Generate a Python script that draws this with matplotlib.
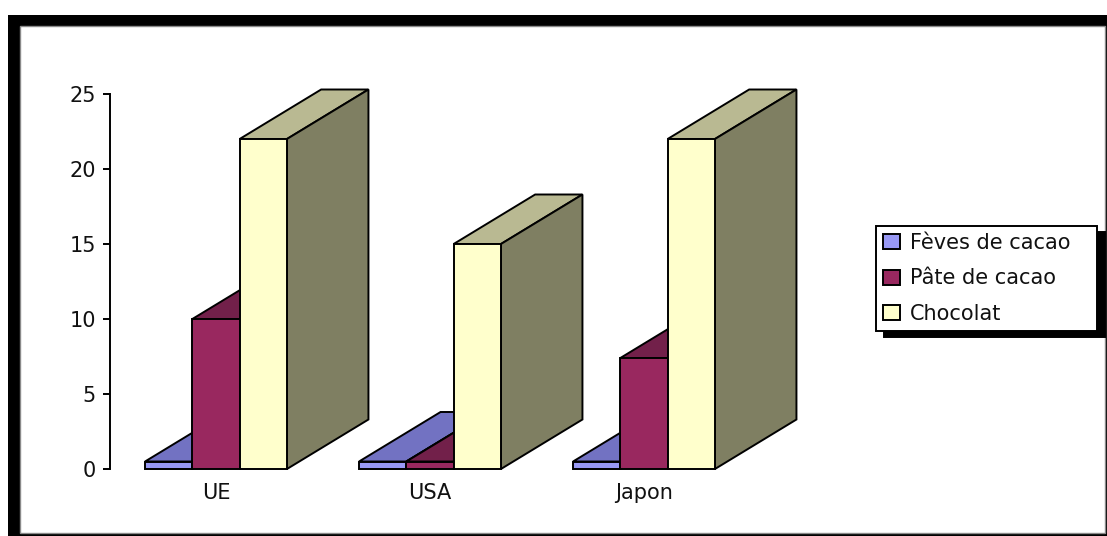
import matplotlib
matplotlib.use("Agg")
import matplotlib.pyplot as plt
from matplotlib.patches import Patch, Polygon, Rectangle

# Imports of cocoa products by market
markets = ["UE", "USA", "Japon"]
series_names = ["Fèves de cacao", "Pâte de cacao", "Chocolat"]
feves = [0.5, 0.5, 0.5]
pate = [10, 0.5, 7.4]
chocolat = [22, 15, 22]
y_ticks = [0, 5, 10, 15, 20, 25]

front_colors = ["#9999F5", "#99285F", "#FFFFCC"]
top_colors = ["#7272C2", "#72204A", "#B9B992"]
side_colors = ["#57578F", "#551B38", "#7F7F62"]

W, H = 1107, 536
fig = plt.figure(figsize=(W / 100, H / 100), dpi=100, facecolor="white")


def fx(px):
    return px / W


def fy(px):
    return 1 - px / H


# Heavy black frame around the white plot area
fig.add_artist(Rectangle((fx(8), fy(536)), fx(1107) - fx(8), fy(15) - fy(536),
                         transform=fig.transFigure, fc="black", ec="none", zorder=-3))
fig.add_artist(Rectangle((fx(20), fy(532.5)), fx(1104.5) - fx(20), fy(26) - fy(532.5),
                         transform=fig.transFigure, fc="white", ec="#8a8a8a", lw=1, zorder=-2))

ax = fig.add_axes([fx(110), fy(469), fx(850) - fx(110), fy(94) - fy(469)])
ax.patch.set_alpha(0)
unit = 214  # pixels per category
ax.set_xlim((110 - 216) / unit, (850 - 216) / unit)
ax.set_ylim(0, 25)

bar_w = 47.3 / unit
depth_x = 81.5 / unit
depth_y = 49.5 / 15
EDGE = dict(edgecolor="black", linewidth=1.4, joinstyle="miter", clip_on=False)

for i in range(len(markets)):
    for s, values in enumerate([feves, pate, chocolat]):
        v = values[i]
        x0 = i + (s - 1.5) * bar_w
        x1 = x0 + bar_w
        ax.add_patch(Polygon([(x0, v), (x1, v), (x1 + depth_x, v + depth_y),
                              (x0 + depth_x, v + depth_y)],
                             facecolor=top_colors[s], **EDGE))
        ax.add_patch(Polygon([(x1, 0), (x1 + depth_x, depth_y),
                              (x1 + depth_x, v + depth_y), (x1, v)],
                             facecolor=side_colors[s], **EDGE))
        ax.add_patch(Rectangle((x0, 0), bar_w, v, facecolor=front_colors[s], **EDGE))

for name in ["top", "right", "bottom"]:
    ax.spines[name].set_visible(False)
ax.spines["left"].set_linewidth(1.4)

FONT = "DejaVu Sans"
ax.set_yticks(y_ticks)
ax.set_xticks(range(len(markets)))
ax.set_xticklabels(markets, fontsize=15, family=FONT, color="#111111")
ax.tick_params(axis="y", length=5, width=1.4, pad=5, labelsize=15, labelcolor="#111111")
ax.tick_params(axis="x", length=0, pad=10)
for label in ax.get_yticklabels():
    label.set_family(FONT)

handles = [Patch(facecolor=c, edgecolor="black", linewidth=1.4) for c in front_colors]
leg = fig.legend(handles, series_names, loc="upper left", mode="expand",
                 bbox_to_anchor=(fx(876), fy(331), 221 / W, 105 / H), borderaxespad=0,
                 fancybox=False, edgecolor="black", framealpha=1,
                 shadow={"facecolor": "black", "edgecolor": "black", "alpha": 1,
                         "ox": 5.8, "oy": -4.3},
                 prop={"family": FONT, "size": 15},
                 handlelength=0.8, handleheight=0.75, handletextpad=0.5,
                 labelspacing=0.75, borderpad=0.33)
leg.get_frame().set_linewidth(1.4)
for t in leg.get_texts():
    t.set_color("#111111")

fig.savefig("out.png", dpi=100)
